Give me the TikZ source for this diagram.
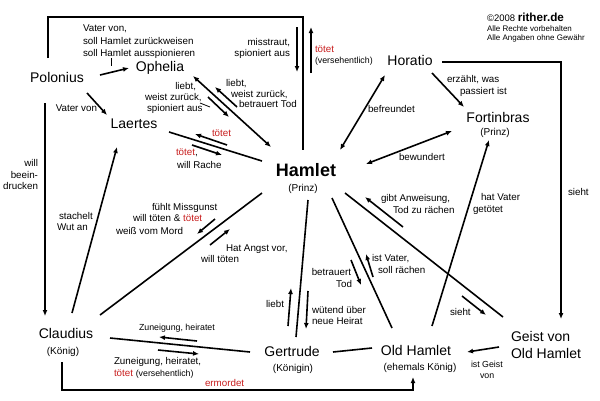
\documentclass[tikz,border=0pt]{standalone}
\usepackage{fontspec}
\setmainfont{Liberation Sans}
\usetikzlibrary{arrows.meta}
\definecolor{tred}{RGB}{200,30,30}
\begin{document}
\begin{tikzpicture}[x=1pt,y=-1pt,
  every node/.style={inner sep=0pt,outer sep=0pt},
  nm/.style={font=\fontsize{14}{16}\selectfont},
  hm/.style={font=\bfseries\fontsize{18}{20}\selectfont},
  sub/.style={font=\fontsize{10}{12}\selectfont},
  lb/.style={font=\fontsize{9.8}{11}\selectfont},
  sm/.style={font=\fontsize{8.8}{10}\selectfont},
  cp/.style={font=\fontsize{8}{9}\selectfont},
  ln/.style={line width=1.6pt,black},
  arr/.style={ln,-{Latex[length=6pt,width=5pt]}},
  darr/.style={ln,{Latex[length=6pt,width=5pt]}-{Latex[length=6pt,width=5pt]}}
]
\useasboundingbox (0,0) rectangle (600,400);
\fill[white] (0,0) rectangle (600,400);

% main nodes
\node[nm,anchor=base] (pol) at (57,82.5) {Polonius};
\node[nm,anchor=base] (oph) at (160,71.5) {Ophelia};
\node[nm,anchor=base] (lae) at (134,128.5) {Laertes};
\node[hm,anchor=base] (ham) at (306,176.5) {Hamlet};
\node[sub,anchor=base] (hamsub) at (303,191.5) {(Prinz)};
\node[nm,anchor=base] (hor) at (410,65.5) {Horatio};
\node[nm,anchor=base] (fort) at (498,122.5) {Fortinbras};
\node[sub,anchor=base] (fortsub) at (495,135.5) {(Prinz)};
\node[nm,anchor=base] (cla) at (66,338.5) {Claudius};
\node[sub,anchor=base] (clasub) at (63,354.5) {(König)};
\node[nm,anchor=base] (ger) at (292,356.5) {Gertrude};
\node[sub,anchor=base] (gersub) at (293,371.5) {(Königin)};
\node[nm,anchor=base] (old) at (416,355.5) {Old Hamlet};
\node[sub,anchor=base] (oldsub) at (420,370.5) {(ehemals König)};
\node[nm,anchor=base west] (geist) at (511,341.5) {Geist von};
\node[nm,anchor=base west] (geist2) at (511,358.5) {Old Hamlet};

% copyright
\node[anchor=base west] (cp1) at (487,21) {{\fontsize{9.5}{11}\selectfont ©2008 }{\bfseries\fontsize{11.7}{13}\selectfont rither.de}};
\node[cp,anchor=base west] (cp2) at (487,31) {Alle Rechte vorbehalten};
\node[cp,anchor=base west] (cp3) at (487,40) {Alle Angaben ohne Gewähr};

% main connectors
\draw[ln] ([shift={(-9,-24.5)}]pol.base) -- ++(0,-41) -| ([shift={(-3,-26.5)}]ham.base);
\draw[arr] ([shift={(43,-7.5)}]pol.base) -- ([shift={(-31,-3.5)}]oph.base);
\draw[arr] ([shift={(30,10.5)}]pol.base) -- ([shift={(-27,-13.5)}]lae.base);
\draw[arr] ([shift={(-12,20.5)}]pol.base) -- ([shift={(-21,-22.5)}]cla.base);
\draw[arr] ([shift={(6,-25.5)}]cla.base) -- ([shift={(-17,18.5)}]lae.base);
\draw[darr] ([shift={(33,4.5)}]oph.base) -- ([shift={(-35,-29.5)}]ham.base);
\draw[ln] ([shift={(35,3.5)}]lae.base) -- ([shift={(-44,-15.5)}]ham.base);
\draw[darr] ([shift={(34,-26.5)}]ham.base) -- ([shift={(-25,9.5)}]hor.base);
\draw[arr] ([shift={(22,7.5)}]hor.base) -- ([shift={(-34,-15.5)}]fort.base);
\draw[arr] ([shift={(32,-3.5)}]hor.base) -| ([shift={(50,-22.5)}]geist.base west);
\draw[darr] ([shift={(60,-12.5)}]ham.base) -- ([shift={(-46,8.5)}]fort.base);
\draw[arr] ([shift={(16,-29.5)}]old.base) -- ([shift={(-9,17.5)}]fort.base);
\draw[ln] ([shift={(39,16.5)}]ham.base) -- ([shift={(-8,-24.5)}]geist.base west);
\draw[ln] ([shift={(26,21.5)}]ham.base) -- ([shift={(-24,-27.5)}]old.base);
\draw[ln] ([shift={(2,23.5)}]ham.base) -- ([shift={(4,-19.5)}]ger.base);
\draw[ln] ([shift={(-44,16.5)}]ham.base) -- ([shift={(34,-23.5)}]cla.base);
\draw[ln] ([shift={(44,-0.5)}]cla.base) -- ([shift={(-42,-4.5)}]ger.base);
\draw[ln] ([shift={(41,-4.5)}]ger.base) -- ([shift={(-44,-7.5)}]old.base);
\draw[arr] ([shift={(-4,23.5)}]cla.base) -- ++(0,28) -| ([shift={(-3,21.5)}]old.base);
\draw[arr] ([shift={(-12,5.5)}]geist.base west) -- ([shift={(51,-3.5)}]old.base);

% small annotation arrows
\coordinate (a1) at (297,27); \coordinate (a2) at (297,72);
\draw[arr] (a1) -- (a2);
\coordinate (b1) at (311,73); \coordinate (b2) at (311,27);
\draw[arr] (b1) -- (b2);
\coordinate (c1) at (208,97); \coordinate (c2) at (229,117);
\draw[arr] (c1) -- (c2);
\coordinate (d1) at (237,107); \coordinate (d2) at (215,87);
\draw[arr] (d1) -- (d2);
\coordinate (e1) at (200,103); \coordinate (e2) at (210,107);
\draw[line width=0.8pt] (e1) -- (e2);
\coordinate (tk1) at (111,58); \coordinate (tk2) at (111,66);
\draw[line width=0.8pt] (tk1) -- (tk2);
\coordinate (f1) at (227,145); \coordinate (f2) at (195,134);
\draw[arr] (f1) -- (f2);
\coordinate (g1) at (192,145); \coordinate (g2) at (222,155);
\draw[arr] (g1) -- (g2);
\coordinate (i1) at (403,227); \coordinate (i2) at (365,197);
\draw[arr] (i1) -- (i2);
\coordinate (j1) at (462,296); \coordinate (j2) at (486,315);
\draw[arr] (j1) -- (j2);
\coordinate (k1) at (351,260); \coordinate (k2) at (361,285);
\draw[arr] (k1) -- (k2);
\coordinate (l1) at (373,277); \coordinate (l2) at (366,254);
\draw[arr] (l1) -- (l2);
\coordinate (m1) at (288,326); \coordinate (m2) at (291,288);
\draw[arr] (m1) -- (m2);
\coordinate (n1) at (308,291); \coordinate (n2) at (306,329);
\draw[arr] (n1) -- (n2);
\coordinate (o1) at (215,219); \coordinate (o2) at (197,234);
\draw[arr] (o1) -- (o2);
\coordinate (p1) at (210,245); \coordinate (p2) at (230,229);
\draw[arr] (p1) -- (p2);
\coordinate (q1) at (197,341); \coordinate (q2) at (159,337);
\draw[arr] (q1) -- (q2);
\coordinate (r1) at (158,350); \coordinate (r2) at (199,354);
\draw[arr] (r1) -- (r2);

% labels
\node[lb,anchor=base west] (t1) at (83,31) {Vater von,};
\node[lb,anchor=base west] (t2) at (83,44) {soll Hamlet zurückweisen};
\node[lb,anchor=base west] (t3) at (83,56) {soll Hamlet ausspionieren};
\node[lb,anchor=base east] (t4) at (290,45) {misstraut,};
\node[lb,anchor=base east] (t5) at (290,56) {spioniert aus};
\node[lb,anchor=base west,text=tred] (t6) at (315,52) {tötet};
\node[sm,anchor=base west] (t7) at (315,63) {(versehentlich)};
\node[lb,anchor=base east] (t8) at (97,111) {Vater von};
\node[lb,anchor=base east] (t9) at (38,166) {will};
\node[lb,anchor=base east] (t10) at (38,178) {beein-};
\node[lb,anchor=base east] (t11) at (38,189) {drucken};
\node[lb,anchor=base west] (t12) at (59,219) {stachelt};
\node[lb,anchor=base west] (t13) at (57,230) {Wut an};
\node[lb,anchor=base east] (t14) at (196,89) {liebt,};
\node[lb,anchor=base west] (t15) at (145,100) {weist zurück,};
\node[lb,anchor=base west] (t16) at (147,111) {spioniert aus};
\node[lb,anchor=base west] (t17) at (226,86) {liebt,};
\node[lb,anchor=base west] (t18) at (231,97) {weist zurück,};
\node[lb,anchor=base west] (t19) at (239,107) {betrauert Tod};
\node[lb,anchor=base west,text=tred] (t20) at (212,136) {tötet};
\node[lb,anchor=base west] (t21) at (176,155) {\textcolor{tred}{tötet},};
\node[lb,anchor=base west] (t22) at (177,168) {will Rache};
\node[lb,anchor=base west] (t23) at (368,112) {befreundet};
\node[lb,anchor=base west] (t24) at (447,82) {erzählt, was};
\node[lb,anchor=base west] (t25) at (460,94) {passiert ist};
\node[lb,anchor=base west] (t26) at (399,160) {bewundert};
\node[lb,anchor=base west] (t27) at (568,195) {sieht};
\node[lb,anchor=base west] (t28) at (381,201) {gibt Anweisung,};
\node[lb,anchor=base west] (t29) at (393,213) {Tod zu rächen};
\node[lb,anchor=base west] (t30) at (481,200) {hat Vater};
\node[lb,anchor=base west] (t31) at (473,212) {getötet};
\node[lb,anchor=base west] (t32) at (372,261) {ist Vater,};
\node[lb,anchor=base west] (t33) at (378,273) {soll rächen};
\node[lb,anchor=base east] (t34) at (351,275) {betrauert};
\node[lb,anchor=base east] (t35) at (352,287) {Tod};
\node[lb,anchor=base west] (t36) at (450,315) {sieht};
\node[lb,anchor=base west] (t37) at (152,210) {fühlt Missgunst};
\node[lb,anchor=base west] (t38) at (133,221) {will töten \& \textcolor{tred}{tötet}};
\node[lb,anchor=base west] (t39) at (116,234) {weiß vom Mord};
\node[lb,anchor=base west] (t40) at (226,251) {Hat Angst vor,};
\node[lb,anchor=base west] (t41) at (201,262) {will töten};
\node[lb,anchor=base west] (t42) at (266,307) {liebt};
\node[lb,anchor=base west] (t43) at (312,313) {wütend über};
\node[lb,anchor=base west] (t44) at (312,324) {neue Heirat};
\node[sm,anchor=base west] (t45) at (139,330) {Zuneigung, heiratet};
\node[lb,anchor=base west] (t46) at (114,364) {Zuneigung, heiratet,};
\node[lb,anchor=base west] (t47) at (114,376) {\textcolor{tred}{tötet} {\fontsize{8.8}{10}\selectfont(versehentlich)}};
\node[lb,anchor=base west,text=tred] (t48) at (205,386) {ermordet};
\node[sm,anchor=base west] (t49) at (471,367) {ist Geist};
\node[sm,anchor=base west] (t50) at (480,378) {von};
\end{tikzpicture}
\end{document}
